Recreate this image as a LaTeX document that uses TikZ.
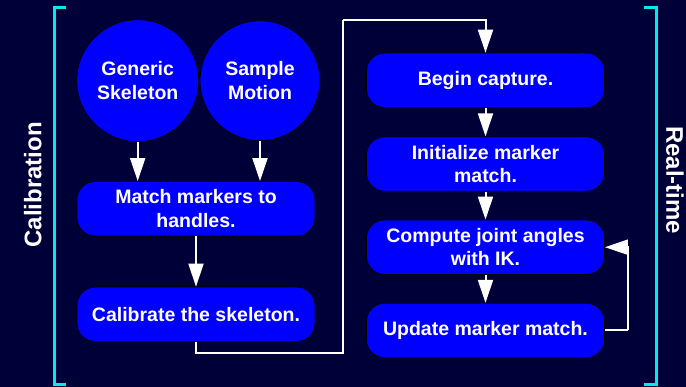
\documentclass[tikz,border=0pt]{standalone}
\usepackage{fontspec}
\setmainfont{Liberation Sans}
\usetikzlibrary{arrows.meta}
\definecolor{bgnavy}{RGB}{0,0,56}
\definecolor{boxblue}{RGB}{0,0,255}
\definecolor{brcyan}{RGB}{0,235,235}
\tikzset{
  stepbox/.style={draw=black, line width=0.8pt, fill=boxblue, rounded corners=18pt,
    minimum width=238pt, minimum height=54.5pt, inner sep=0pt, align=center,
    text=white, font=\fontsize{19.5}{23.4}\selectfont\bfseries},
  srcnode/.style={circle, draw=black, line width=0.8pt, fill=boxblue, inner sep=0pt,
    align=center, text=white, font=\fontsize{19.5}{23.4}\selectfont\bfseries},
  flow/.style={draw=white, line width=2pt, -{Triangle[length=23pt,width=15pt]}},
  flowline/.style={draw=white, line width=2pt},
  bracket/.style={draw=brcyan, line width=3pt},
  sidelabel/.style={text=white, inner sep=0pt, font=\fontsize{24}{28}\selectfont\bfseries}
}
\begin{document}
\begin{tikzpicture}[x=1pt,y=1pt]
\fill[bgnavy] (0,0) rectangle (686,-387);
\useasboundingbox (0,0) rectangle (686,-387);

% brackets
\draw[bracket] (66,-8) -- (54,-8) -- (54,-385) -- (66,-385);
\draw[bracket] (644,-8) -- (656,-8) -- (656,-385) -- (644,-385);

\node[sidelabel, rotate=90] (calib) at (32.8,-185) {Calibration};
\node[sidelabel, rotate=-90] (rt) at (675,-180.3) {Real-time};

% nodes
\node[srcnode, minimum size=122pt] (gs) at (137.7,-80.7) {Generic\\Skeleton};
\node[srcnode, minimum size=120pt] (sm) at (260,-80.7) {Sample\\Motion};
\node[stepbox] (match) at (196,-208.7) {Match markers to\\handles.};
\node[stepbox] (cal) at (196,-314.3) {Calibrate the skeleton.};

\node[stepbox] (begin) at (485.5,-80.3) {Begin capture.};
\node[stepbox] (init) at (485.5,-164) {Initialize marker\\match.};
\node[stepbox] (cmp) at (485.5,-247.2) {Compute joint angles\\with IK.};
\node[stepbox] (upd) at (485.5,-330.5) {Update marker match.};

% connectors
\draw[flow] (gs.south) -- (gs.south |- match.north);
\draw[flow] (sm.south) -- (sm.south |- match.north);
\draw[flow] (match) -- (cal);

\coordinate (c1) at (343,-352.7);
\coordinate (c2) at (343,-20);
\draw[flowline] (cal.south) |- (c1) -- (c2);
\draw[flow] (c2) -| (begin.north);

\draw[flow] (begin) -- (init);
\draw[flow] (init) -- (cmp);
\draw[flow] (cmp) -- (upd);

\coordinate (fb) at (628,-330.5);
\draw[flowline] (upd.east) -- (fb);
\draw[flow] (fb) |- (cmp.east);
\end{tikzpicture}
\end{document}
